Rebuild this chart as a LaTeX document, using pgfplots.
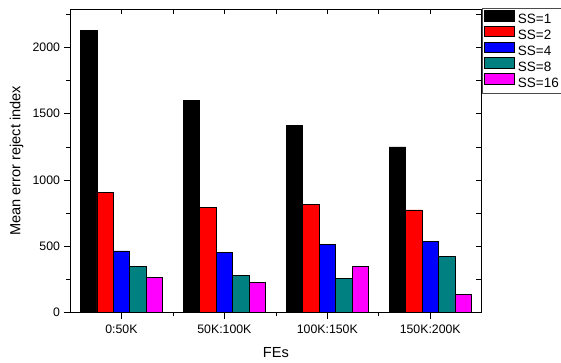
\documentclass[border=0pt]{standalone}
\usepackage{pgfplots}
\pgfplotsset{compat=1.18}
\usepackage{fontspec}
\setmainfont{Liberation Sans}
\definecolor{ssteal}{RGB}{0,128,128}
\definecolor{ssmag}{RGB}{255,0,255}
\definecolor{ssred}{RGB}{255,0,0}
\definecolor{ssblue}{RGB}{0,0,255}
\begin{document}
\begin{tikzpicture}
\useasboundingbox (-70pt,-50.3pt) rectangle (491pt,312.7pt);
\begin{axis}[
  at={(0,0)}, anchor=south west,
  scale only axis, width=411.7pt, height=303.7pt,
  ybar=0pt, bar width=0.16,
  xmin=-0.5, xmax=3.5, ymin=0, ymax=2290,
  xtick={0,1,2,3},
  xticklabels={0:50K,50K:100K,100K:150K,150K:200K},
  minor xtick={0.5,1.5,2.5},
  ytick={0,500,1000,1500,2000},
  minor ytick={250,750,1250,1750,2250},
  xtick pos=bottom, ytick pos=left, tick align=outside,
  major tick length=6pt, minor tick length=3.5pt,
  every tick/.style={black, line width=0.6pt},
  axis line style={line width=0.7pt},
  /pgf/number format/1000 sep={},
  /pgf/number format/assume math mode=true,
  tick label style={font=\fontsize{12.3}{14}\selectfont},
  xticklabel style={yshift=-2.5pt},
  yticklabel style={xshift=-0.5pt},
  xlabel={FEs},
  ylabel={Mean error reject index},
  label style={font=\fontsize{14.6}{16}\selectfont},
  xlabel style={at={([yshift=-40pt]axis description cs:0.5,0)}, anchor=center},
  ylabel style={at={([xshift=-53.3pt]axis description cs:0,0.5)}, anchor=center, rotate=0},
  legend image code/.code={\draw[#1,draw=black,line width=0.5pt] (0pt,-0.3pt) rectangle (29.6pt,10.4pt);},
  legend style={at={(1,1)}, anchor=north west, xshift=0.6pt, yshift=0.7pt,
    draw=black!70, line width=0.6pt, inner sep=1.3pt,
    font=\fontsize{13.5}{14}\selectfont, row sep=-2.6pt,
    nodes={inner sep=1.1pt, text height=9.9pt, text depth=3.5pt},
    /tikz/every odd column/.append style={column sep=2.8pt},
    /tikz/every even column/.append style={column sep=4pt}},
  legend cell align=left,
]
\addplot[fill=black, draw=black, line width=0.5pt] coordinates {(0,2128) (1,1603) (2,1411) (3,1250)};
\addplot[fill=ssred, draw=black, line width=0.5pt] coordinates {(0,906) (1,795) (2,815) (3,775)};
\addplot[fill=ssblue, draw=black, line width=0.5pt] coordinates {(0,466) (1,456) (2,513) (3,539)};
\addplot[fill=ssteal, draw=black, line width=0.5pt] coordinates {(0,350) (1,282) (2,260) (3,425)};
\addplot[fill=ssmag, draw=black, line width=0.5pt] coordinates {(0,267) (1,226) (2,347) (3,139)};
\legend{SS=1,SS=2,SS=4,SS=8,SS=16}
\end{axis}
\begin{axis}[
  at={(0,0)}, anchor=south west,
  scale only axis, width=411.7pt, height=303.7pt,
  xmin=-0.5, xmax=3.5, ymin=0, ymax=2290,
  xtick={0,1,2,3}, minor xtick={0.5,1.5,2.5},
  ytick={0,500,1000,1500,2000},
  minor ytick={250,750,1250,1750,2250},
  xtick pos=top, ytick pos=right, tick align=inside,
  major tick length=5.5pt, minor tick length=5.5pt,
  every tick/.style={black, line width=0.6pt},
  axis line style={line width=0.7pt},
  xticklabels={}, yticklabels={},
]
\addplot[draw=none] coordinates {(0,0)};
\end{axis}
\end{tikzpicture}
\end{document}
